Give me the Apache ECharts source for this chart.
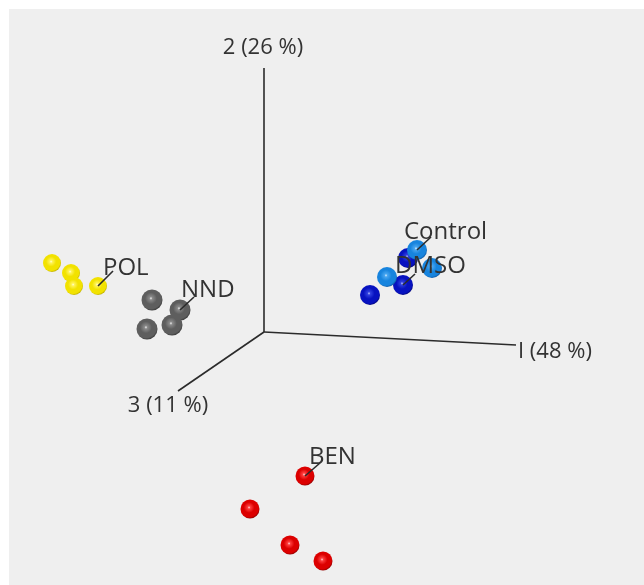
<!DOCTYPE html>
<html>
<head>
<meta charset="utf-8">
<script src="https://cdn.jsdelivr.net/npm/echarts@6/dist/echarts.min.js"></script>
<style>
  html, body { margin: 0; padding: 0; background: #ffffff; }
  #chart { width: 644px; height: 585px; }
</style>
</head>
<body>
<div id="chart"></div>
<script>
// PCA score plot, projected onto the viewing plane (units: projected score).
// Axis titles with explained variance
const axisTitles = ['I (48 %)', '2 (26 %)', '3 (11 %)'];
// Projected end points of the three principal component axes
const axisEnds = [[25.2, -1.3], [0, 26.4], [-8.6, -5.9]];

// Group names
const groups = ['POL', 'NND', 'DMSO', 'Control', 'BEN'];
// Projected sample scores for each group
const polScores = [[-21.2, 6.9], [-19.3, 5.9], [-19.0, 4.6], [-16.6, 4.6]];
const nndScores = [[-11.2, 3.2], [-8.4, 2.2], [-9.2, 0.7], [-11.7, 0.3]];
const dmsoScores = [[14.4, 7.4], [13.9, 4.7], [10.6, 3.7]];
const controlScores = [[15.3, 8.2], [12.3, 5.5], [16.8, 6.4]];
const benScores = [[4.1, -14.4], [-1.4, -17.7], [2.6, -21.3], [5.9, -22.9]];
// Index of the sample each group label is attached to
const labelAnchors = [3, 1, 1, 0, 0];

const FONT = 'Open Sans';
const TEXT = '#333333';

function sphere(light, mid, base, dark) {
  return {
    type: 'radial', x: 0.45, y: 0.42, r: 0.62,
    colorStops: [
      { offset: 0, color: light },
      { offset: 0.12, color: mid },
      { offset: 0.45, color: base },
      { offset: 0.8, color: base },
      { offset: 1, color: dark }
    ]
  };
}

const groupData = [polScores, nndScores, dmsoScores, controlScores, benScores];
const groupStyle = [
  { size: 18, color: sphere('#fffde0', '#fff45a', '#f2e200', '#a89800') },
  { size: 21, color: sphere('#f0f0f0', '#8a8a8a', '#5e5e5e', '#2e2e2e') },
  { size: 20, color: sphere('#c0c8ff', '#3040e0', '#0712c0', '#00005e') },
  { size: 20, color: sphere('#e0f2ff', '#48a6f0', '#1784de', '#08458c') },
  { size: 19, color: sphere('#ffe0e0', '#ff4040', '#dc0000', '#780000') }
];
// Leader line end and text position (pixels) relative to the anchor sample
const labelOffsets = [
  { lx: 15, ly: -15, dx: 5, dy: -6 },
  { lx: 14, ly: -13, dx: 1, dy: -8 },
  { lx: 12, ly: -11, dx: -8, dy: -7 },
  { lx: 14, ly: -13, dx: -13, dy: -6 },
  { lx: 15, ly: -13, dx: 4, dy: -7 }
];

const series = [];

// Principal component axes
axisEnds.forEach(function (end) {
  series.push({
    type: 'line',
    data: [[0, 0], end],
    symbol: 'none',
    silent: true,
    z: 1,
    lineStyle: { color: '#2b2b2b', width: 1.6 }
  });
});

// Axis titles
const titleOffsets = [[2, 7, 'left'], [-1, -20, 'center'], [-10, 15, 'center']];
series.push({
  type: 'custom',
  silent: true,
  z: 1,
  data: axisEnds.map(function (e, i) { return [e[0], e[1], i]; }),
  renderItem: function (params, api) {
    const i = api.value(2);
    const p = api.coord([api.value(0), api.value(1)]);
    const o = titleOffsets[i];
    return {
      type: 'text',
      style: {
        x: p[0] + o[0], y: p[1] + o[1],
        text: axisTitles[i],
        fill: TEXT,
        font: '22px "' + FONT + '"',
        align: o[2], verticalAlign: 'middle'
      }
    };
  }
});

// Sample spheres
groups.forEach(function (name, g) {
  series.push({
    type: 'scatter',
    name: name,
    data: groupData[g],
    symbolSize: groupStyle[g].size,
    z: 3,
    itemStyle: { color: groupStyle[g].color, opacity: 1 }
  });
});

// Group labels with leader lines
series.push({
  type: 'custom',
  silent: true,
  z: 5,
  data: groups.map(function (name, g) {
    const a = groupData[g][labelAnchors[g]];
    return [a[0], a[1], g];
  }),
  renderItem: function (params, api) {
    const g = api.value(2);
    const p = api.coord([api.value(0), api.value(1)]);
    const o = labelOffsets[g];
    return {
      type: 'group',
      children: [
        {
          type: 'line',
          shape: { x1: p[0], y1: p[1], x2: p[0] + o.lx, y2: p[1] + o.ly },
          style: { stroke: '#2b2b2b', lineWidth: 1.6 }
        },
        {
          type: 'text',
          style: {
            x: p[0] + o.dx, y: p[1] + o.dy,
            text: groups[g],
            fill: TEXT,
            font: '24px "' + FONT + '"',
            align: 'left', verticalAlign: 'bottom'
          }
        }
      ]
    };
  }
});

const chart = echarts.init(document.getElementById('chart'), null, { renderer: 'canvas' });
chart.setOption({
  backgroundColor: '#ffffff',
  animation: false,
  graphic: [{
    type: 'rect', z: -10, silent: true,
    shape: { x: 9, y: 9, width: 640, height: 580 },
    style: { fill: '#efefef' }
  }],
  grid: { left: 0, right: 0, top: 0, bottom: 0 },
  xAxis: { type: 'value', min: -26.4, max: 38.0, show: false },
  yAxis: { type: 'value', min: -25.3, max: 33.2, show: false },
  series: series
});
</script>
</body>
</html>
